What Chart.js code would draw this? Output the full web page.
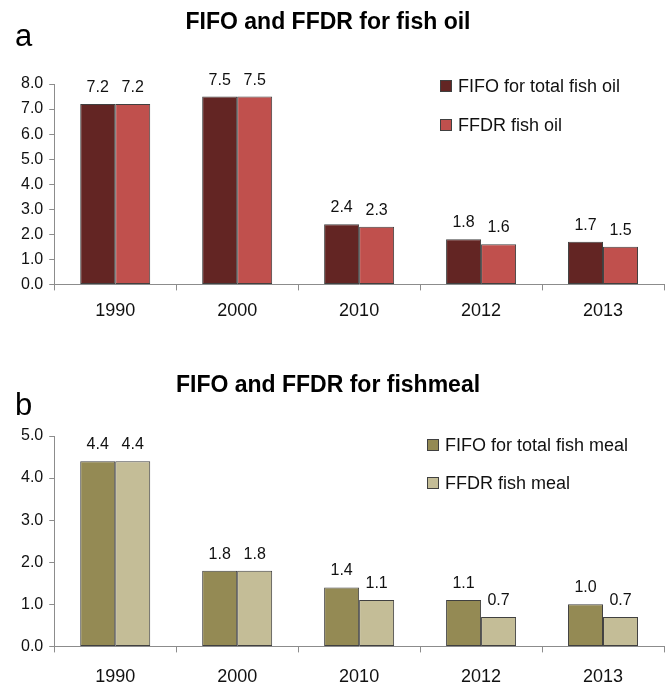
<!DOCTYPE html>
<html>
<head>
<meta charset="utf-8">
<script src="https://cdn.jsdelivr.net/npm/chart.js@4.4.0/dist/chart.umd.min.js"></script>
<style>
  html, body { margin: 0; padding: 0; background: #fff; overflow: hidden; }
  .box { position: relative; width: 669px; }
</style>
</head>
<body>
<div class="box" style="height:340px"><canvas id="oilChart"></canvas></div>
<div class="box" style="height:362px"><canvas id="mealChart"></canvas></div>
<script>
const years = ['1990', '2000', '2010', '2012', '2013'];
const oilFifo = [7.2, 7.5, 2.4, 1.8, 1.7];
const oilFfdr = [7.2, 7.5, 2.3, 1.6, 1.5];
const mealFifo = [4.4, 1.8, 1.4, 1.1, 1.0];
const mealFfdr = [4.4, 1.8, 1.1, 0.7, 0.7];

const FONT = "'Liberation Sans', Arial, Helvetica, sans-serif";
const AXIS = '#8c8c8c';

// titles, panel letters, legend and value labels
const decor = {
  id: 'decor',
  afterDatasetsDraw(chart, args, o) {
    const ctx = chart.ctx;
    ctx.save();
    ctx.fillStyle = '#000';
    ctx.textBaseline = 'alphabetic';

    ctx.font = 'bold 23px ' + FONT;
    ctx.textAlign = 'center';
    ctx.fillText(o.title, o.titleX, o.titleY);

    ctx.font = '31px ' + FONT;
    ctx.textAlign = 'left';
    ctx.fillText(o.letter, o.letterX, o.letterY);

    // value labels
    ctx.font = '16px ' + FONT;
    ctx.textAlign = 'center';
    ctx.fillStyle = '#111';
    chart.data.datasets.forEach((ds, i) => {
      chart.getDatasetMeta(i).data.forEach((bar, j) => {
        ctx.fillText(ds.data[j].toFixed(1), bar.x, bar.y - 12);
      });
    });

    // legend
    ctx.font = '18px ' + FONT;
    ctx.textAlign = 'left';
    chart.data.datasets.forEach((ds, i) => {
      const y = o.legendY + i * o.legendGap;
      ctx.fillStyle = ds.backgroundColor;
      ctx.fillRect(o.legendX, y - 12, 12, 12);
      ctx.strokeStyle = '#404040';
      ctx.lineWidth = 1;
      ctx.strokeRect(o.legendX + 0.5, y - 11.5, 11, 11);
      ctx.fillStyle = '#111';
      ctx.fillText(ds.label, o.legendX + 18, y);
    });
    ctx.restore();
  }
};

function makeChart(id, labels, a, b, names, colors, yMax, pad, xPad, deco) {
  return new Chart(document.getElementById(id), {
    type: 'bar',
    data: {
      labels: labels,
      datasets: [
        { label: names[0], data: a, backgroundColor: colors[0], borderColor: '#404040', borderWidth: 1, borderSkipped: false },
        { label: names[1], data: b, backgroundColor: colors[1], borderColor: '#404040', borderWidth: 1, borderSkipped: false }
      ]
    },
    options: {
      responsive: true,
      maintainAspectRatio: false,
      animation: false,
      layout: { padding: pad },
      datasets: { bar: { categoryPercentage: 0.574, barPercentage: 1.0 } },
      plugins: {
        legend: { display: false },
        title: { display: false },
        tooltip: { enabled: false },
        decor: deco
      },
      scales: {
        x: {
          grid: { display: true, offset: true, drawOnChartArea: false, color: AXIS, tickLength: 6 },
          border: { color: AXIS, width: 1 },
          ticks: { color: '#111', font: { family: FONT, size: 18 }, padding: xPad }
        },
        y: {
          min: 0,
          max: yMax,
          grid: { display: true, drawOnChartArea: false, color: AXIS, tickLength: 5 },
          border: { color: AXIS, width: 1 },
          ticks: {
            stepSize: 1,
            color: '#111',
            font: { family: FONT, size: 16 },
            padding: 6,
            callback: v => v.toFixed(1)
          }
        }
      }
    },
    plugins: [decor]
  });
}

makeChart('oilChart', years, oilFifo, oilFfdr,
  ['FIFO for total fish oil', 'FFDR fish oil'],
  ['#632523', '#c0504d'], 8,
  { top: 84, left: 15, right: 5, bottom: 8 }, 10,
  { title: 'FIFO and FFDR for fish oil', titleX: 328, titleY: 29,
    letter: 'a', letterX: 15, letterY: 46,
    legendX: 440, legendY: 92, legendGap: 39 });

makeChart('mealChart', years, mealFifo, mealFfdr,
  ['FIFO for total fish meal', 'FFDR fish meal'],
  ['#948a54', '#c4bd97'], 5,
  { top: 96, left: 15, right: 5, bottom: 0 }, 14,
  { title: 'FIFO and FFDR for fishmeal', titleX: 328, titleY: 52,
    letter: 'b', letterX: 15, letterY: 75,
    legendX: 427, legendY: 111, legendGap: 38 });
</script>
</body>
</html>
